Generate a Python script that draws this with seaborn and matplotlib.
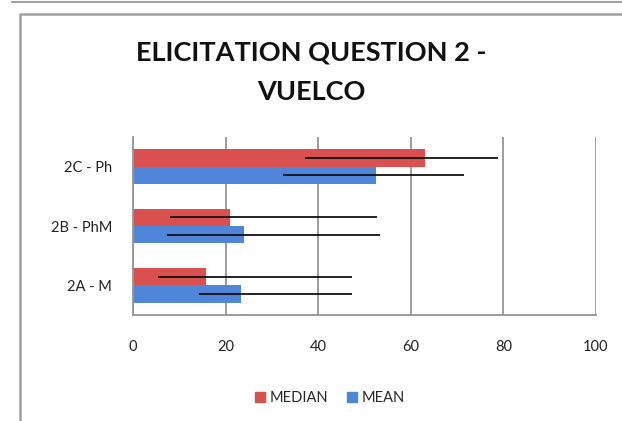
import matplotlib
matplotlib.use("Agg")
import matplotlib.pyplot as plt
import seaborn as sns
import pandas as pd
from matplotlib.patches import Rectangle
from matplotlib.lines import Line2D

categories = ["2C - Ph", "2B - PhM", "2A - M"]
series = ["MEDIAN", "MEAN"]
median_vals = [63.1, 21.0, 15.8]
mean_vals = [52.5, 24.0, 23.3]
median_low = [37.1, 8.0, 5.3]
median_high = [78.9, 52.6, 47.2]
mean_low = [32.4, 7.4, 14.3]
mean_high = [71.5, 53.3, 47.4]
xticks = [0, 20, 40, 60, 80, 100]
title = "ELICITATION QUESTION 2 -\nVUELCO"

colors = {"MEDIAN": "#d9504f", "MEAN": "#4f86d9"}

df = pd.DataFrame({
    "cat": categories * 2,
    "series": ["MEDIAN"] * 3 + ["MEAN"] * 3,
    "value": median_vals + mean_vals,
})
lows = {"MEDIAN": median_low, "MEAN": mean_low}
highs = {"MEDIAN": median_high, "MEAN": mean_high}

sns.set_theme(style="white")
plt.rcParams["font.family"] = ["Lato", "DejaVu Sans"]

fig = plt.figure(figsize=(6.22, 4.21), dpi=100)
ax = fig.add_axes([133 / 622, 1 - 315 / 421, (596 - 133) / 622, (315 - 137) / 421])

sns.barplot(data=df, y="cat", x="value", hue="series", order=categories,
            hue_order=series, palette=colors, orient="h", width=0.58,
            ax=ax, legend=False, saturation=1, linewidth=0, errorbar=None)

# error lines (asymmetric, no caps) at bar centers
for s_idx, s in enumerate(series):
    cont = ax.containers[s_idx]
    for i, bar in enumerate(cont):
        yc = bar.get_y() + bar.get_height() / 2
        ax.hlines(yc, lows[s][i], highs[s][i], color="#111111", lw=1.3, zorder=5)

ax.set_xlim(0, 100)
ax.set_ylim(2.5, -0.5)
ax.set_xticks(xticks)
ax.set_xticklabels([str(t) for t in xticks], fontsize=10.5, color="#222222")
ax.set_yticks([0, 1, 2])
ax.set_yticklabels(categories, fontsize=10.5, color="#222222")
ax.set_xlabel("")
ax.set_ylabel("")
ax.tick_params(axis="y", length=0, pad=15)
ax.tick_params(axis="x", length=0, pad=18)
ax.grid(axis="x", color="#959595", lw=1.3)
ax.set_axisbelow(True)
for side in ["top", "right"]:
    ax.spines[side].set_visible(False)
for side in ["left", "bottom"]:
    ax.spines[side].set_color("#959595")
    ax.spines[side].set_linewidth(1.3)

# minor tick marks (between categories and at gridlines)
ax.set_yticks([-0.5, 0.5, 1.5, 2.5], minor=True)
ax.set_xticks(xticks, minor=True)
ax.tick_params(axis="y", which="minor", length=5, color="#959595", width=1.3, direction="out")
ax.tick_params(axis="x", which="minor", length=5, color="#959595", width=1.3, direction="out")

fig.text(311 / 622, 1 - 72 / 421, title, ha="center", va="center",
         fontsize=19.5, fontweight="bold", color="#111111", linespacing=1.75)

handles = [Rectangle((0, 0), 1, 1, color=colors[s]) for s in series]
fig.legend(handles, series, loc="center", bbox_to_anchor=(330 / 622, 1 - 398 / 421),
           ncol=2, frameon=False, fontsize=10.5, handlelength=0.7, handleheight=0.7,
           handletextpad=0.3, columnspacing=1.3)

# outer chart frame
fig.add_artist(Line2D([12 / 622, 1], [1 - 1.5 / 421, 1 - 1.5 / 421], transform=fig.transFigure,
                      color="#a0a0a0", lw=1.5))
fig.add_artist(Line2D([20 / 622, 20 / 622, 1], [0, 1 - 14 / 421, 1 - 14 / 421],
                      transform=fig.transFigure, color="#a0a0a0", lw=1.8))

fig.savefig("out.png", dpi=100)
